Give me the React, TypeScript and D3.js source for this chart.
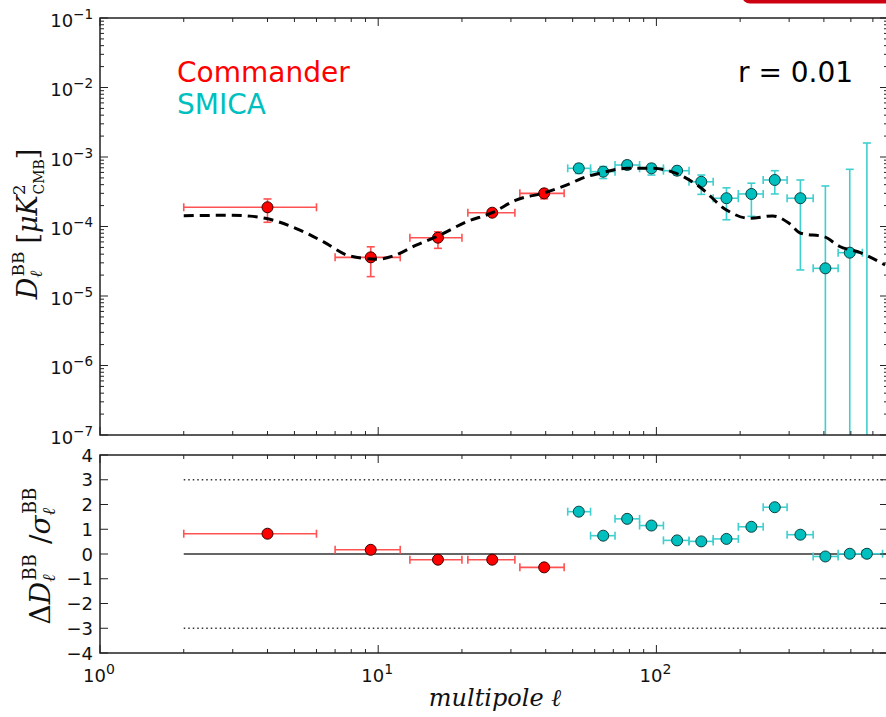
import React from 'react';
import * as d3 from 'd3';

const W = 886;
const H = 717;

// Commander (low-ell) band powers
const commanderEll = [4, 9.4, 16.4, 25.7, 39.5];
const commanderEllLo = [2, 7, 13, 21, 32.3];
const commanderEllHi = [6, 12, 20, 31, 46.6];
const commanderD = [1.89e-4, 3.6e-5, 6.9e-5, 1.58e-4, 3.0e-4];
const commanderDLo = [1.15e-4, 1.9e-5, 4.85e-5, 1.42e-4, 2.5e-4];
const commanderDHi = [2.49e-4, 5.1e-5, 8.4e-5, 1.75e-4, 3.4e-4];
const commanderResid = [0.82, 0.17, -0.23, -0.23, -0.54];

// SMICA (high-ell) band powers (null = negative value, not shown on log axis)
const smicaEll = [52.6, 64.4, 78.5, 96, 118.7, 145, 178.6, 219.5, 266.4, 329.3, 405, 495.5, 571];
const smicaEllLo = [48, 58, 71, 87, 106, 131, 160, 197, 242, 295, 366, 450, 550];
const smicaEllHi = [58, 71, 87, 106, 131, 160, 197, 242, 295, 366, 450, 550, 650];
const smicaD: (number | null)[] = [6.87e-4, 6.15e-4, 7.67e-4, 6.87e-4, 6.35e-4, 4.4e-4, 2.55e-4, 2.94e-4, 4.67e-4, 2.55e-4, 2.5e-5, 4.2e-5, null];
const smicaDLo = [5.8e-4, 4.9e-4, 6.7e-4, 5.5e-4, 5.5e-4, 2.9e-4, 1.25e-4, 1.4e-4, 2.94e-4, 2.37e-5, -3.3e-4, -5.8e-4, -1.5e-3];
const smicaDHi = [7.9e-4, 7.3e-4, 8.8e-4, 7.9e-4, 7.3e-4, 5.5e-4, 3.6e-4, 4.2e-4, 6.35e-4, 4.67e-4, 3.83e-4, 6.65e-4, 1.59e-3];
const smicaResid = [1.71, 0.74, 1.42, 1.15, 0.55, 0.51, 0.61, 1.10, 1.89, 0.78, -0.10, 0.01, 0.01];

// r = 0.01 model spectrum
const modelEll = [2, 2.93, 3.46, 3.97, 5.23, 6.34, 7.9, 9.9, 11.3, 13.7, 16.4, 20.8, 25.7, 31.3, 39.5, 48.7, 53.9, 62.2, 78.4, 95.8, 118, 142.8, 178.5, 216, 262, 300, 330, 402, 454, 541, 664];
const modelD = [1.43e-4, 1.45e-4, 1.41e-4, 1.3e-4, 8.9e-5, 6.05e-5, 3.77e-5, 3.38e-5, 3.77e-5, 5.4e-5, 7.3e-5, 1.17e-4, 1.58e-4, 2.4e-4, 3.05e-4, 4.1e-4, 4.93e-4, 5.8e-4, 6.87e-4, 6.87e-4, 5.8e-4, 3.74e-4, 1.73e-4, 1.31e-4, 1.42e-4, 1.11e-4, 8e-5, 7.1e-5, 5.2e-5, 4.2e-5, 2.79e-5];

const topYTickExps = [-1, -2, -3, -4, -5, -6, -7];
const botYTicks = [4, 3, 2, 1, 0, -1, -2, -3, -4];
const xTickExps = [0, 1, 2];

const RED = '#ff0000';
const RED_ERR = '#ff5252';
const CYAN = '#00bfbf';
const CYAN_ERR = '#3fcfcf';
const AX = '#222';

export default function App() {
  const x = d3.scaleLog().domain([1, 680]).range([100, 888]);
  const yTop = d3.scaleLog().domain([1e-7, 1e-1]).range([435, 18]).clamp(true);
  const yBot = d3.scaleLinear().domain([-4, 4]).range([653, 455]);
  const topTop = 18, topBot = 435, botTop = 455, botBot = 653;
  const xL = 100, xR = 888;

  const minorX: number[] = [];
  for (let k = 0; k < 3; k++) for (let m = 2; m <= 9; m++) { const v = m * Math.pow(10, k); if (v < 680) minorX.push(v); }
  const minorY: number[] = [];
  for (let e = -7; e < -1; e++) for (let m = 2; m <= 9; m++) minorY.push(m * Math.pow(10, e));

  const yT = (v: number) => (v <= 0 ? topBot : yTop(v));

  const line = d3.line<number>()
    .x((_, i) => x(modelEll[i]))
    .y((d) => yTop(d))
    .curve(d3.curveMonotoneX);

  const xTicksFor = (yEdge: number, dir: number, key: string) => (
    <g key={key}>
      {xTickExps.map((e) => (
        <line key={'M' + e} x1={x(Math.pow(10, e))} x2={x(Math.pow(10, e))} y1={yEdge} y2={yEdge + dir * 8} stroke={AX} strokeWidth={1} />
      ))}
      {minorX.map((v) => (
        <line key={'m' + v} x1={x(v)} x2={x(v)} y1={yEdge} y2={yEdge + dir * 4} stroke={AX} strokeWidth={1} />
      ))}
    </g>
  );

  const errH = (l: number, lo: number, hi: number, yy: number, color: string, key: string) => (
    <g key={key} stroke={color} strokeWidth={1.6}>
      <line x1={x(lo)} x2={x(hi)} y1={yy} y2={yy} />
      <line x1={x(lo)} x2={x(lo)} y1={yy - 4} y2={yy + 4} />
      <line x1={x(hi)} x2={x(hi)} y1={yy - 4} y2={yy + 4} />
    </g>
  );
  const errV = (l: number, lo: number, hi: number, color: string, key: string) => (
    <g key={key} stroke={color} strokeWidth={1.6}>
      <line x1={x(l)} x2={x(l)} y1={yT(lo)} y2={yT(hi)} />
      {lo > 0 && <line x1={x(l) - 4} x2={x(l) + 4} y1={yT(lo)} y2={yT(lo)} />}
      <line x1={x(l) - 4} x2={x(l) + 4} y1={yT(hi)} y2={yT(hi)} />
    </g>
  );

  const sans = 'DejaVu Sans, sans-serif';
  const serif = 'DejaVu Serif, serif';

  return (
    <svg width={W} height={H} style={{ position: 'absolute', left: 0, top: 0, background: '#fff' }} fontFamily={sans}>
      <rect x={0} y={0} width={W} height={H} fill="#fff" />
      <rect x={742} y={-12} width={160} height={15.5} rx={8} fill="#cc0011" />

      <defs>
        <clipPath id="clipTop"><rect x={xL} y={topTop} width={xR - xL} height={topBot - topTop} /></clipPath>
        <clipPath id="clipBot"><rect x={xL} y={botTop} width={xR - xL} height={botBot - botTop} /></clipPath>
      </defs>

      {/* ===== Top panel ===== */}
      <g clipPath="url(#clipTop)">
        {commanderEll.map((l, i) => errH(l, commanderEllLo[i], commanderEllHi[i], yT(commanderD[i]), RED_ERR, 'ch' + i))}
        {commanderEll.map((l, i) => errV(l, commanderDLo[i], commanderDHi[i], RED_ERR, 'cv' + i))}
        {smicaEll.map((l, i) => smicaD[i] !== null ? errH(l, smicaEllLo[i], smicaEllHi[i], yT(smicaD[i] as number), CYAN_ERR, 'sh' + i) : null)}
        {smicaEll.map((l, i) => errV(l, smicaDLo[i], smicaDHi[i], CYAN_ERR, 'sv' + i))}
        {commanderEll.map((l, i) => (
          <circle key={'cp' + i} cx={x(l)} cy={yT(commanderD[i])} r={5.5} fill={RED} stroke="#3a0000" strokeWidth={1} />
        ))}
        {smicaEll.map((l, i) => smicaD[i] !== null ? (
          <circle key={'sp' + i} cx={x(l)} cy={yT(smicaD[i] as number)} r={5.5} fill={CYAN} stroke="#0a4040" strokeWidth={1} />
        ) : null)}
        <path d={line(modelD) || ''} fill="none" stroke="#000" strokeWidth={3} strokeDasharray="10,6" />
      </g>

      {/* top panel frame and ticks */}
      <rect x={xL} y={topTop} width={xR - xL} height={topBot - topTop} fill="none" stroke={AX} strokeWidth={1.5} />
      {xTicksFor(topBot, -1, 'tb')}
      {xTicksFor(topTop, 1, 'tt')}
      {topYTickExps.map((e) => (
        <g key={'ty' + e}>
          <line x1={xL} x2={xL + 8} y1={yTop(Math.pow(10, e))} y2={yTop(Math.pow(10, e))} stroke={AX} />
          <line x1={xR} x2={xR - 8} y1={yTop(Math.pow(10, e))} y2={yTop(Math.pow(10, e))} stroke={AX} />
          <text x={93} y={yTop(Math.pow(10, e)) + 8.7} textAnchor="end" fontSize={18} fill="#111">
            10<tspan fontSize={13.5} dy={-8}>{'\u2212' + Math.abs(e)}</tspan>
          </text>
        </g>
      ))}
      {minorY.map((v) => (
        <g key={'tym' + v}>
          <line x1={xL} x2={xL + 4} y1={yTop(v)} y2={yTop(v)} stroke={AX} />
          <line x1={xR} x2={xR - 4} y1={yTop(v)} y2={yTop(v)} stroke={AX} />
        </g>
      ))}

      {/* legend and annotation */}
      <text x={177} y={82} fontSize={28} fill={RED}>Commander</text>
      <text x={177} y={114} fontSize={28} fill={CYAN}>SMICA</text>
      <text x={738} y={82} fontSize={28} fill="#000">r = 0.01</text>

      {/* top y label */}
      <text transform="translate(37,224) rotate(-90)" textAnchor="middle" fontFamily={serif} fill="#111">
        <tspan fontSize={27} fontStyle="italic">D</tspan>
        <tspan fontSize={17} fontStyle="italic" dy={5}>ℓ</tspan>
        <tspan fontSize={17} dx={-6} dy={-18}>BB</tspan>
        <tspan fontSize={27} dx={8} dy={13}>[</tspan>
        <tspan fontSize={27} fontStyle="italic">μK</tspan>
        <tspan fontSize={17} dy={-12}>2</tspan>
        <tspan fontSize={14} dx={-10} dy={19}>CMB</tspan>
        <tspan fontSize={27} dy={-7}>]</tspan>
      </text>

      {/* ===== Bottom panel ===== */}
      <g clipPath="url(#clipBot)">
        <line x1={x(2)} x2={xR} y1={yBot(3)} y2={yBot(3)} stroke="#333" strokeWidth={1.5} strokeDasharray="1.5,3" />
        <line x1={x(2)} x2={xR} y1={yBot(-3)} y2={yBot(-3)} stroke="#333" strokeWidth={1.5} strokeDasharray="1.5,3" />
        <line x1={x(2)} x2={xR} y1={yBot(0)} y2={yBot(0)} stroke="#333" strokeWidth={1.6} />
        {commanderEll.map((l, i) => errH(l, commanderEllLo[i], commanderEllHi[i], yBot(commanderResid[i]), RED_ERR, 'bch' + i))}
        {smicaEll.map((l, i) => errH(l, smicaEllLo[i], smicaEllHi[i], yBot(smicaResid[i]), CYAN_ERR, 'bsh' + i))}
        {commanderEll.map((l, i) => (
          <circle key={'bcp' + i} cx={x(l)} cy={yBot(commanderResid[i])} r={5.5} fill={RED} stroke="#3a0000" strokeWidth={1} />
        ))}
        {smicaEll.map((l, i) => (
          <circle key={'bsp' + i} cx={x(l)} cy={yBot(smicaResid[i])} r={5.5} fill={CYAN} stroke="#0a4040" strokeWidth={1} />
        ))}
      </g>
      <rect x={xL} y={botTop} width={xR - xL} height={botBot - botTop} fill="none" stroke={AX} strokeWidth={1.5} />
      {xTicksFor(botBot, -1, 'bb')}
      {xTicksFor(botTop, 1, 'bt')}
      {botYTicks.map((v) => (
        <g key={'by' + v}>
          <line x1={xL} x2={xL + 8} y1={yBot(v)} y2={yBot(v)} stroke={AX} />
          <line x1={xR} x2={xR - 8} y1={yBot(v)} y2={yBot(v)} stroke={AX} />
          <text x={93} y={yBot(v) + 6.5} textAnchor="end" fontSize={18} fill="#111">
            {v < 0 ? '\u2212' + Math.abs(v) : String(v)}
          </text>
        </g>
      ))}
      {xTickExps.map((e) => (
        <text key={'xl' + e} x={x(Math.pow(10, e)) - 1} y={681.5} textAnchor="middle" fontSize={18} fill="#111">
          10<tspan fontSize={14} dy={-8}>{String(e)}</tspan>
        </text>
      ))}

      {/* bottom y label */}
      <text transform="translate(50,556) rotate(-90)" textAnchor="middle" fontFamily={serif} fill="#111">
        <tspan fontSize={28}>Δ</tspan>
        <tspan fontSize={28} fontStyle="italic">D</tspan>
        <tspan fontSize={18} fontStyle="italic" dy={5}>ℓ</tspan>
        <tspan fontSize={18} dx={-6} dy={-19}>BB</tspan>
        <tspan fontSize={28} dx={10} dy={14}>/</tspan>
        <tspan fontSize={28} fontStyle="italic">σ</tspan>
        <tspan fontSize={18} fontStyle="italic" dy={5}>ℓ</tspan>
        <tspan fontSize={18} dx={-6} dy={-19}>BB</tspan>
      </text>

      {/* x label */}
      <text x={495} y={706} textAnchor="middle" fontFamily={serif} fontStyle="italic" fontSize={24} fill="#111">
        multipole ℓ
      </text>
    </svg>
  );
}
